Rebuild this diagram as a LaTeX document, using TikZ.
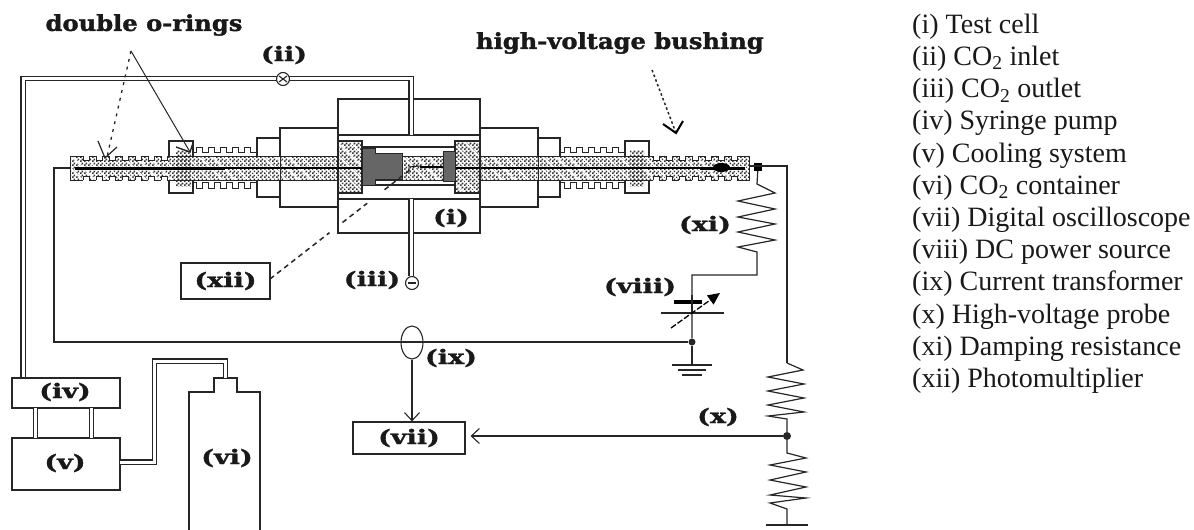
\documentclass[tikz,border=0pt]{standalone}
\usepackage{fontspec}
\setmainfont{Liberation Serif}
\newfontfamily\labfont{DejaVu Serif Bold}[FakeStretch=1.35,FakeBold=1.5]
\newfontfamily\bigfont{DejaVu Serif Bold}[FakeStretch=1.1,FakeBold=1.5]
\usetikzlibrary{patterns,patterns.meta,arrows.meta,calc,shapes.geometric}
\pgfdeclarepatternformonly{chk}{\pgfqpoint{0pt}{0pt}}{\pgfqpoint{4pt}{4pt}}{\pgfqpoint{4pt}{4pt}}{%
  \pgfpathrectangle{\pgfpointorigin}{\pgfqpoint{2pt}{2pt}}%
  \pgfpathrectangle{\pgfqpoint{2pt}{2pt}}{\pgfqpoint{2pt}{2pt}}%
  \pgfusepath{fill}}
\tikzset{
  wire/.style={draw=black!85,line width=1.2pt},
  thinwire/.style={draw=black!85,line width=1pt},
  pipe/.style={draw=black!85,line width=1.3pt,double=white,double distance=3pt},
  labl/.style={font=\labfont\fontsize{20}{20}\selectfont,inner sep=0pt,text=black!90},
  biglabl/.style={font=\bigfont\fontsize{22}{22}\selectfont,inner sep=0pt,text=black!90},
  legend/.style={anchor=base west,inner sep=0pt,font=\fontsize{28}{28}\selectfont,text=black!90},
  boxnode/.style={draw=black!85,line width=1.2pt,inner sep=0pt,fill=white},
  hatchfill/.style={pattern=chk,pattern color=black!80},
  stripes/.style={pattern={Lines[angle=-45,distance=9pt,line width=1.3pt]},pattern color=white},
  opentip/.style={-{Straight Barb[length=8pt,width=15pt,line width=1.1pt]}},
  junction/.style={circle,fill=black!85,minimum size=8pt,inner sep=0pt},
}
\begin{document}
\begin{tikzpicture}[x=1pt,y=-1pt]
\useasboundingbox (0,0) rectangle (1194,530);

% ---- pipes (behind the cell)
\coordinate (p1) at (23,378);
\coordinate (p2) at (23,78.5);
\coordinate (p3) at (411,78.5);
\coordinate (p4) at (411,135);
\coordinate (p5) at (411,199);
\coordinate (p6) at (411,276);

% ---- test cell blocks
\draw[wire,fill=white] (338,99) rectangle (480,233);
\draw[wire,fill=white] (280,128) rectangle (338,207);
\draw[wire,fill=white] (480,128) rectangle (538,207);
\draw[wire] (338,135) -- (480,135);
\draw[wire] (338,199) -- (480,199);
\draw[wire] (362,147) -- (455,147);
\draw[wire] (362,185) -- (455,185);
\draw[wire] (280,138) -- (257,138) -- (257,197) -- (280,197);
\draw[wire] (538,138) -- (560,138) -- (560,197) -- (538,197);
% o-ring housings
\draw[wire] (193,141) -- (169,141) -- (169,193) -- (193,193) -- cycle;
\draw[wire] (625,141) rectangle (649,193);
% fins
\foreach \xa in {193,205,217,229,241}{
  \draw[thinwire] (\xa,152) -- (\xa+3,152) -- (\xa+3,147) -- (\xa+9,147) -- (\xa+9,152) -- (\xa+12,152);
  \draw[thinwire] (\xa,182) -- (\xa+3,182) -- (\xa+3,188) -- (\xa+9,188) -- (\xa+9,182) -- (\xa+12,182);
}
\draw[thinwire] (253,152) -- (257,152);
\draw[thinwire] (253,182) -- (257,182);
\foreach \xa in {561,573,585,597,609}{
  \draw[thinwire] (\xa,152) -- (\xa+3,152) -- (\xa+3,147) -- (\xa+9,147) -- (\xa+9,152) -- (\xa+12,152);
  \draw[thinwire] (\xa,182) -- (\xa+3,182) -- (\xa+3,188) -- (\xa+9,188) -- (\xa+9,182) -- (\xa+12,182);
}
\draw[thinwire] (621,152) -- (625,152);
\draw[thinwire] (621,182) -- (625,182);

% pipe through the cell (visible across the blocks)
\draw[pipe] (p1) -- (p2) -- (p3) -- (p4);
\draw[pipe] (p5) -- (p6);

% ---- bushing
\fill[white] (70,156) rectangle (749,180);
\fill[hatchfill] (70,156) rectangle (749,180);
\fill[stripes] (70,156) rectangle (749,180);
\fill[hatchfill] (176,150) rectangle (191,186);
\fill[hatchfill] (630,150) rectangle (644,186);
\draw[black,line width=3pt] (75,168) -- (225,168);
\draw[black,line width=2.2pt] (225,168) -- (338,168);
\draw[black,line width=2.2pt] (480,168) -- (700,168);
\draw[black,line width=3pt] (700,168) -- (745,168);
\draw[black!85,line width=1pt] (70,156) rectangle (749,180);
\draw[black!85,line width=1pt] (280,156) -- (280,180);
\draw[black!85,line width=1pt] (538,156) -- (538,180);
\foreach \xa in {86,99,112,125,138,151,164}{
  \fill[white] (\xa-3,155) rectangle (\xa+3,160);
  \fill[white] (\xa-3,176) rectangle (\xa+3,181);
  \draw[black!85,line width=.9pt] (\xa-3,156) -- (\xa-3,160) -- (\xa+3,160) -- (\xa+3,156);
  \draw[black!85,line width=.9pt] (\xa-3,180) -- (\xa-3,176) -- (\xa+3,176) -- (\xa+3,180);
}
\foreach \xa in {656,669,682,695,708,721,734}{
  \fill[white] (\xa-3,155) rectangle (\xa+3,160);
  \fill[white] (\xa-3,176) rectangle (\xa+3,181);
  \draw[black!85,line width=.9pt] (\xa-3,156) -- (\xa-3,160) -- (\xa+3,160) -- (\xa+3,156);
  \draw[black!85,line width=.9pt] (\xa-3,180) -- (\xa-3,176) -- (\xa+3,176) -- (\xa+3,180);
}
\fill[black] (721.5,167.5) ellipse [x radius=8.5pt,y radius=4.5pt];
% hatched end blocks
\fill[white] (338,141) rectangle (362,193);
\fill[hatchfill] (338,141) rectangle (362,193);
\fill[stripes] (338,141) rectangle (362,193);
\draw[wire] (338,141) rectangle (362,193);
\fill[white] (455,141) rectangle (480,193);
\fill[hatchfill] (455,141) rectangle (480,193);
\fill[stripes] (455,141) rectangle (480,193);
\draw[wire] (455,141) rectangle (480,193);
\draw[black,line width=2pt] (338,168) -- (362,168);
\draw[black,line width=2pt] (455,168) -- (480,168);
% electrodes
\fill[black!60,draw=black!85,line width=1pt] (362,148) -- (375,148) -- (375,153) -- (402,153) -- (402,179) -- (375,179) -- (375,185) -- (362,185) -- cycle;
\fill[black!60,draw=black!85,line width=1pt] (443,151) rectangle (455,181);
\draw[black,line width=2.4pt] (443,167) -- (420,167);
\draw[black,line width=.9pt] (420,166) -- (408,167);

% ---- boxes and nodes
\node[boxnode,minimum width=108pt,minimum height=30pt] (iv) at (66,393) {};
\node[boxnode,minimum width=108pt,minimum height=52pt] (v) at (66,464) {};
\node[boxnode,minimum width=112pt,minimum height=32pt] (vii) at (409,438) {};
\node[boxnode,minimum width=89pt,minimum height=36pt] (xii) at (225.5,281) {};
\node[draw=black!85,line width=1.1pt,circle,minimum size=13pt,inner sep=0pt,fill=white] (outlet) at (412,283) {};
\draw[black!85,line width=1.4pt] (408,283) -- (416,283);
\node[draw=black!85,line width=1.1pt,circle,minimum size=13pt,inner sep=0pt,fill=white] (valve) at (283,79) {};
\draw[black!85,line width=1.1pt] (279,76) -- (287,82) (287,76) -- (279,82);
\node[draw=black!85,line width=1.1pt,ellipse,minimum width=22pt,minimum height=33pt,inner sep=0pt] (ct) at (412,342.5) {};

% bottle
\draw[wire] (189,530) -- (189,392) -- (214,392) -- (214,378) -- (237,378) -- (237,392) -- (260,392) -- (260,530);
\coordinate (b1) at (225.5,378);

% pipes between pump, cooler, bottle
\draw[pipe] (35.5,408) -- (35.5,438);
\draw[pipe] (91.5,408) -- (91.5,438);
\draw[pipe] (120,462) -- (154.5,462) -- (154.5,361) -- (225.5,361) -- (b1);

% ---- circuit
\coordinate (w1) at (54,168);
\coordinate (w2) at (54,342);
\node[junction,minimum size=7pt] (gnd) at (692,342) {};
\node[rectangle,fill=black,minimum size=8pt,inner sep=0pt] (hv) at (758,167) {};
\coordinate (w3) at (787,166);
\coordinate (w4) at (787,363);
\node[junction] (tap) at (787,436) {};
\coordinate (w5) at (787,509);
\coordinate (w6) at (787,525);
\coordinate (w7) at (757,275);
\coordinate (w8) at (692,275);
\coordinate (g1) at (692,365);
\coordinate (ta) at ($(tap -| vii.east)+(5,0)$);
\coordinate (ctb) at (ct.south);

\draw[wire] (70,168) -- (w1) -- (w2) -- (gnd);
\draw[wire] (749,166) -- (w3) -- (w4);
\draw[wire] (w4) -- (803,370) -- (768,377) -- (804,384) -- (768,391) -- (804,398) -- (768,405) -- (804,412) -- (768,416) -- (787,419) -- (tap);
\draw[wire] (tap) -- (787,453) -- (806,458) -- (770,465) -- (806,472) -- (770,480) -- (806,487) -- (770,495) -- (806,498) -- (770,503) -- (w5) -- (w6);
\draw[wire] (766,525) -- (808,525);
\draw[wire] (hv) -- (757,184) -- (775,193) -- (738,201) -- (775,209) -- (738,217) -- (775,224) -- (738,232) -- (775,240) -- (738,247) -- (757,252) -- (w7) -- (w8) -- (gnd);
\draw[wire] (gnd) -- (g1);
\draw[wire] (672,365) -- (712,365);
\draw[wire] (678,370) -- (706,370);
\draw[wire] (682,375) -- (702,375);
\fill[white] (680,296) rectangle (704,312);
\draw[black,line width=4.5pt] (674,302) -- (702,302);
\draw[black!85,line width=1.1pt] (661,313) -- (724,313);
\draw[black!85,line width=1.2pt] (692,295) -- (692,313);
\draw[black,line width=1.3pt,dash pattern=on 6pt off 2pt,-{Triangle[length=12pt,width=11pt]}] (671,328) -- (720,293);

\draw[wire,opentip] (ctb) -- (ctb |- vii.north);
\draw[wire,opentip] (tap) -- (ta);

% ---- pointers
\coordinate (o1) at (131,51);
\coordinate (o2) at (107,157);
\coordinate (o3) at (190,152);
\coordinate (h1) at (652,70);
\coordinate (h2) at (676,133);
\draw[thinwire,dash pattern=on 3pt off 5pt,line width=1.3pt] (o1) -- (o2);
\draw[thinwire] (o1) -- (o3);
\draw[thinwire,line width=1.2pt] (98,141) -- (105,158) -- (117,147);
\draw[thinwire,line width=1.4pt] (176,147) -- (190,152) -- (193,143);
\draw[thinwire,dash pattern=on 2.5pt off 2.5pt,line width=1.5pt] (h1) -- (h2);
\draw[black,line width=2pt] (663,124) -- (676,133) -- (683,121);
\coordinate (d0) at (270,279);
\coordinate (d1) at (415,166);
\draw[black!85,line width=1.5pt,dash pattern=on 5pt off 4pt] (d0) -- ($(d0)!0.41!(d1)$) ($(d0)!0.5!(d1)$) -- ($(d0)!0.67!(d1)$) ($(d0)!0.79!(d1)$) -- (d1);

% ---- diagram labels
\node[biglabl] at (144,25) {double o-rings};
\node[biglabl,anchor=east] at (764,43) {high-voltage bushing};
\node[labl] at (284,55) {(ii)};
\node[labl] at (451,218) {(i)};
\node[labl] at (225.5,281) {(xii)};
\node[labl] at (372,280) {(iii)};
\node[labl] at (65,392) {(iv)};
\node[labl] at (65,463) {(v)};
\node[labl] at (227,458) {(vi)};
\node[labl] at (409,438) {(vii)};
\node[labl] at (640,287) {(viii)};
\node[labl] at (451,358) {(ix)};
\node[labl] at (718,417) {(x)};
\node[labl] at (705,225) {(xi)};

% ---- legend
\node[legend] at (912,33.3) {(i) Test cell};
\node[legend] at (912,65.5) {(ii) CO\textsubscript{2} inlet};
\node[legend] at (912,97.7) {(iii) CO\textsubscript{2} outlet};
\node[legend] at (912,129.9) {(iv) Syringe pump};
\node[legend] at (912,162.1) {(v) Cooling system};
\node[legend] at (912,194.3) {(vi) CO\textsubscript{2} container};
\node[legend] at (912,226.5) {(vii) Digital oscilloscope};
\node[legend] at (912,258.7) {(viii) DC power source};
\node[legend] at (912,290.9) {(ix) Current transformer};
\node[legend] at (912,323.1) {(x) High-voltage probe};
\node[legend] at (912,355.3) {(xi) Damping resistance};
\node[legend] at (912,387.5) {(xii) Photomultiplier};
\end{tikzpicture}
\end{document}
